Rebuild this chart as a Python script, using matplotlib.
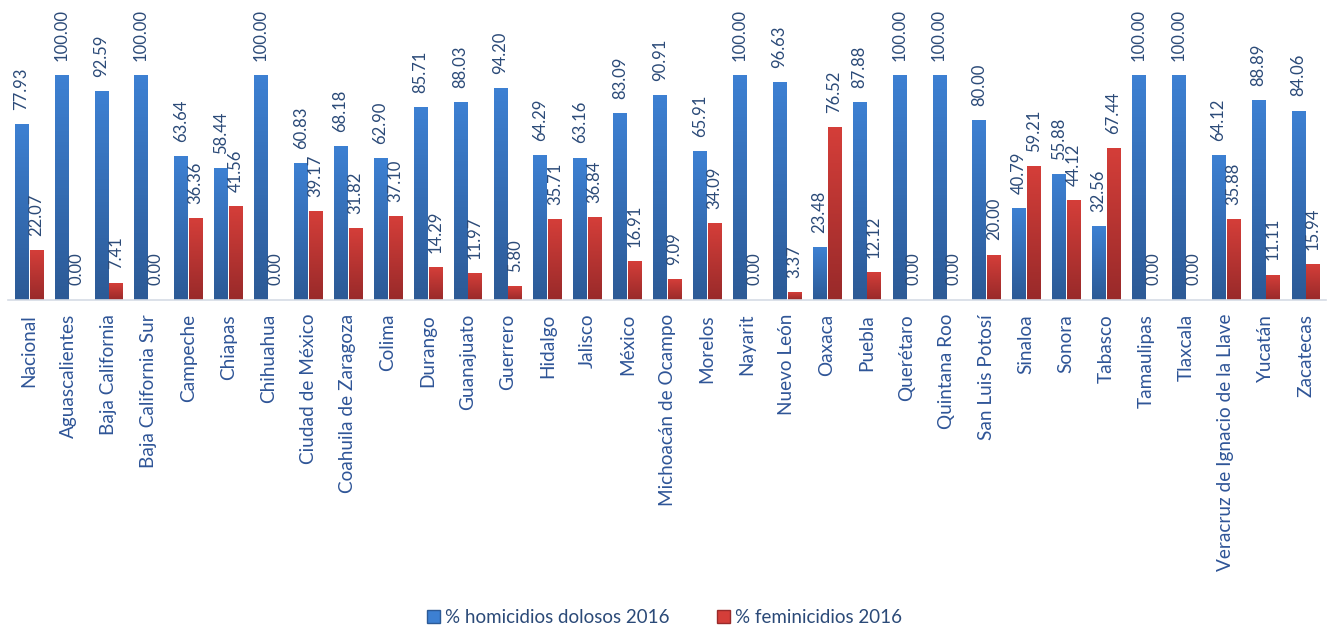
import numpy as np
import matplotlib
matplotlib.use('Agg')
import matplotlib.pyplot as plt
from matplotlib.colors import LinearSegmentedColormap
from matplotlib.patches import Patch

plt.rcParams['font.family'] = ['Lato', 'DejaVu Sans']

estados = ['Nacional', 'Aguascalientes', 'Baja California', 'Baja California Sur',
           'Campeche', 'Chiapas', 'Chihuahua', 'Ciudad de México',
           'Coahuila de Zaragoza', 'Colima', 'Durango', 'Guanajuato', 'Guerrero',
           'Hidalgo', 'Jalisco', 'México', 'Michoacán de Ocampo', 'Morelos',
           'Nayarit', 'Nuevo León', 'Oaxaca', 'Puebla', 'Querétaro',
           'Quintana Roo', 'San Luis Potosí', 'Sinaloa', 'Sonora', 'Tabasco',
           'Tamaulipas', 'Tlaxcala', 'Veracruz de Ignacio de la Llave',
           'Yucatán', 'Zacatecas']
homicidios = [77.93, 100.00, 92.59, 100.00, 63.64, 58.44, 100.00, 60.83,
              68.18, 62.90, 85.71, 88.03, 94.20, 64.29, 63.16, 83.09, 90.91,
              65.91, 100.00, 96.63, 23.48, 87.88, 100.00, 100.00, 80.00,
              40.79, 55.88, 32.56, 100.00, 100.00, 64.12, 88.89, 84.06]
feminicidios = [22.07, 0.00, 7.41, 0.00, 36.36, 41.56, 0.00, 39.17,
                31.82, 37.10, 14.29, 11.97, 5.80, 35.71, 36.84, 16.91, 9.09,
                34.09, 0.00, 3.37, 76.52, 12.12, 0.00, 0.00, 20.00,
                59.21, 44.12, 67.44, 0.00, 0.00, 35.88, 11.11, 15.94]

BLUE_TOP, BLUE_BOT = '#3D80D2', '#2C5A96'
RED_TOP, RED_BOT = '#D43E39', '#992A2A'
TEXT = '#2B4A78'

fig = plt.figure(figsize=(13.29, 6.27), dpi=100)
ax = fig.add_axes([0.006, 0.5215, 0.992, 0.3585])

x = np.arange(len(estados))
w = 0.33
off = 0.185
b1 = ax.bar(x - off, homicidios, w, color=BLUE_BOT)
b2 = ax.bar(x + off, feminicidios, w, color=RED_BOT)

# vertical gradient over each bar
grad = np.linspace(0, 1, 64).reshape(-1, 1)
for bars, top, bot in [(b1, BLUE_TOP, BLUE_BOT), (b2, RED_TOP, RED_BOT)]:
    cmap = LinearSegmentedColormap.from_list('g', [bot, top])
    for bar in bars:
        h = bar.get_height()
        if h <= 0:
            continue
        x0 = bar.get_x()
        ax.imshow(grad, extent=[x0, x0 + bar.get_width(), 0, h], origin='lower',
                  cmap=cmap, aspect='auto', zorder=2)

for bars in (b1, b2):
    for bar in bars:
        h = bar.get_height()
        ax.text(bar.get_x() + bar.get_width() / 2, h + 6.5, f'{h:.2f}',
                rotation=90, ha='center', va='bottom', fontsize=12,
                color=TEXT, clip_on=False)

ax.set_xlim(-0.52, len(estados) - 0.48)
ax.set_ylim(0, 100)
for s in ['top', 'right', 'left']:
    ax.spines[s].set_visible(False)
ax.spines['bottom'].set_color('#D6DCE5')
ax.spines['bottom'].set_linewidth(1.2)
ax.set_yticks([])
ax.set_xticks(x)
ax.set_xticklabels(estados, rotation=90, fontsize=13.7, color='#2F5597')
ax.tick_params(axis='x', length=0, pad=10)

handles = [Patch(facecolor=BLUE_TOP, edgecolor=BLUE_BOT),
           Patch(facecolor=RED_TOP, edgecolor=RED_BOT)]
fig.legend(handles, ['% homicidios dolosos 2016', '% feminicidios 2016'],
           loc='lower center', bbox_to_anchor=(0.5, -0.025), ncol=2, frameon=False,
           fontsize=13.5, handlelength=0.7, handleheight=0.7, handletextpad=0.3,
           columnspacing=2.5, labelcolor='#2B4A78')

fig.savefig('out.png', dpi=100)
